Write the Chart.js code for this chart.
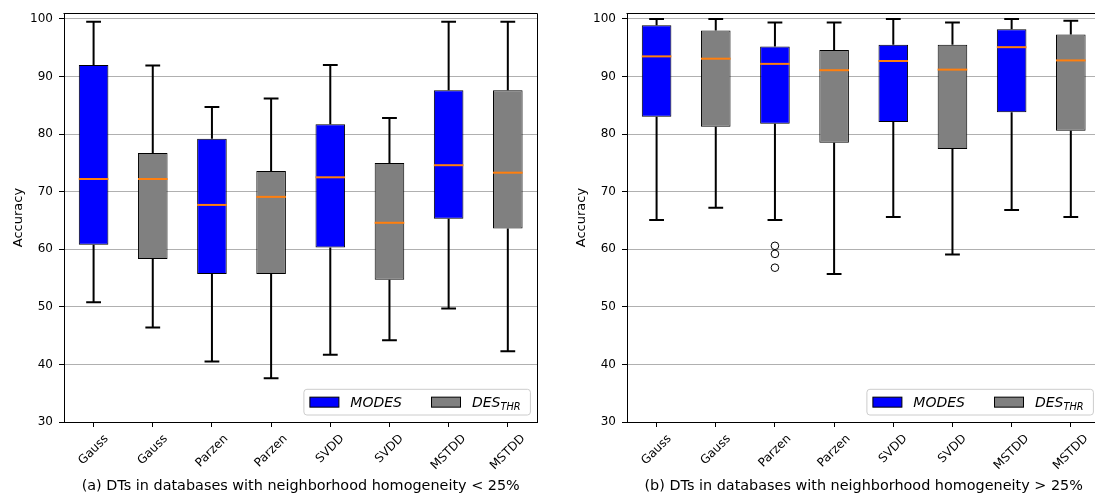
<!DOCTYPE html>
<html>
<head>
<meta charset="utf-8">
<script src="https://cdn.jsdelivr.net/npm/chart.js@4.4.1/dist/chart.umd.min.js"></script>
<style>
html, body { margin: 0; padding: 0; background: #fff; overflow: hidden; }
body { width: 1095px; height: 500px; position: relative; }
.panel { position: absolute; top: 0; width: 560px; height: 500px; }
</style>
</head>
<body>
<div class="panel" style="left:0"><canvas id="chartA" width="560" height="500"></canvas></div>
<div class="panel" style="left:563px"><canvas id="chartB" width="560" height="500"></canvas></div>
<script>
// categorias y grupos (MODES / DES_THR alternados)
const categories = ['Gauss', 'Gauss', 'Parzen', 'Parzen', 'SVDD', 'SVDD', 'MSTDD', 'MSTDD'];
const groups = ['MODES', 'DES', 'MODES', 'DES', 'MODES', 'DES', 'MODES', 'DES'];
const yTicks = [30, 40, 50, 60, 70, 80, 90, 100];

// (a) homogeneidad < 25%
const lowA  = [50.8, 46.4, 40.5, 37.6, 41.7, 44.2, 49.7, 42.3];
const q1A   = [60.8, 58.3, 55.7, 55.7, 60.3, 54.7, 65.3, 63.6];
const medA  = [72.2, 72.2, 67.7, 69.1, 72.5, 64.6, 74.6, 73.3];
const q3A   = [92.0, 76.7, 79.2, 73.6, 81.7, 75.0, 87.6, 87.6];
const highA = [99.5, 91.9, 84.7, 86.2, 92.0, 82.8, 99.5, 99.5];
const outA  = [[], [], [], [], [], [], [], []];

// (b) homogeneidad > 25%
const lowB  = [65.1, 67.2, 65.1, 55.7, 65.6, 59.1, 66.8, 65.6];
const q1B   = [83.0, 81.3, 81.8, 78.5, 82.1, 77.4, 83.8, 80.6];
const medB  = [93.5, 93.1, 92.2, 91.1, 92.7, 91.2, 95.1, 92.8];
const q3B   = [98.9, 98.0, 95.2, 94.6, 95.5, 95.5, 98.2, 97.3];
const highB = [100, 100, 99.4, 99.4, 100, 99.4, 100, 99.7];
const outB  = [[], [], [60.6, 59.2, 56.8], [], [], [], [], []];

const legendItems = [
    { group: 'MODES', text: 'MODES', sub: '' },
    { group: 'DES', text: 'DES', sub: 'THR' }
];
const groupColors = { MODES: '#0000ff', DES: '#808080' };
const FONT = '"DejaVu Sans"';

// Plugin que dibuja bigotes, medianas, outliers, etiquetas x, leyenda y bordes
function boxExtras(low, med, high, outliers) {
    return {
        id: 'boxExtras',
        afterDatasetsDraw(chart) {
            const ctx = chart.ctx;
            const xs = chart.scales.x, ys = chart.scales.y;
            const bars = chart.getDatasetMeta(0).data;
            ctx.save();
            categories.forEach((c, i) => {
                const x = xs.getPixelForValue(i);
                const half = bars[i].width / 2;
                const [q1, q3] = chart.data.datasets[0].data[i];
                ctx.strokeStyle = '#000';
                ctx.lineWidth = 2;
                ctx.beginPath();
                ctx.moveTo(x, ys.getPixelForValue(q3));
                ctx.lineTo(x, ys.getPixelForValue(high[i]));
                ctx.moveTo(x, ys.getPixelForValue(q1));
                ctx.lineTo(x, ys.getPixelForValue(low[i]));
                ctx.moveTo(x - half / 2, ys.getPixelForValue(high[i]));
                ctx.lineTo(x + half / 2, ys.getPixelForValue(high[i]));
                ctx.moveTo(x - half / 2, ys.getPixelForValue(low[i]));
                ctx.lineTo(x + half / 2, ys.getPixelForValue(low[i]));
                ctx.stroke();
                // mediana
                ctx.strokeStyle = '#ff7f0e';
                ctx.beginPath();
                ctx.moveTo(x - half, ys.getPixelForValue(med[i]));
                ctx.lineTo(x + half, ys.getPixelForValue(med[i]));
                ctx.stroke();
                // outliers
                ctx.strokeStyle = '#000';
                ctx.lineWidth = 1;
                outliers[i].forEach(v => {
                    ctx.beginPath();
                    ctx.arc(x, ys.getPixelForValue(v), 3.8, 0, Math.PI * 2);
                    ctx.stroke();
                });
            });
            ctx.restore();
        },
        afterDraw(chart) {
            const ctx = chart.ctx;
            const ca = chart.chartArea;
            const xs = chart.scales.x;
            ctx.save();
            // bordes superior y derecho
            ctx.strokeStyle = '#000';
            ctx.lineWidth = 1;
            ctx.beginPath();
            ctx.moveTo(Math.round(ca.left) - 0.5, Math.round(ca.top) + 0.5);
            ctx.lineTo(Math.round(ca.right) + 0.5, Math.round(ca.top) + 0.5);
            ctx.lineTo(Math.round(ca.right) + 0.5, Math.round(ca.bottom));
            ctx.stroke();

            // etiquetas del eje x rotadas 45 grados, centradas en el tick
            ctx.fillStyle = '#000';
            ctx.font = '12px ' + FONT;
            categories.forEach((lab, i) => {
                const x = xs.getPixelForValue(i);
                const w = ctx.measureText(lab).width;
                const h = 12 * 1.164;
                const bb = (w + h) * Math.SQRT1_2;
                const cy = ca.bottom + 5 + 4.9 + bb / 2;
                ctx.save();
                ctx.translate(x, cy);
                ctx.rotate(-Math.PI / 4);
                ctx.textAlign = 'center';
                ctx.textBaseline = 'middle';
                ctx.fillText(lab, 0, 0);
                ctx.restore();
            });

            // leyenda
            const bw = 226.5, bh = 25.7;
            const bx = ca.right - 7 - bw, by = ca.bottom - 7 - bh;
            ctx.beginPath();
            ctx.roundRect(bx, by, bw, bh, 3);
            ctx.fillStyle = 'rgba(255,255,255,0.8)';
            ctx.fill();
            ctx.strokeStyle = '#cccccc';
            ctx.stroke();
            const cyL = by + bh / 2;
            let px = bx + 6;
            legendItems.forEach(item => {
                ctx.fillStyle = groupColors[item.group];
                ctx.fillRect(px, cyL - 5, 29, 10);
                ctx.strokeStyle = '#000';
                ctx.lineWidth = 1;
                ctx.strokeRect(px, cyL - 5, 29, 10);
                px += 29 + 11.4;
                ctx.fillStyle = '#000';
                ctx.font = 'italic 14px ' + FONT;
                ctx.textAlign = 'left';
                ctx.textBaseline = 'alphabetic';
                ctx.fillText(item.text, px, cyL + 4.5);
                px += ctx.measureText(item.text).width;
                if (item.sub) {
                    ctx.font = 'italic 9.8px ' + FONT;
                    ctx.fillText(item.sub, px, cyL + 7.5);
                    px += ctx.measureText(item.sub).width;
                }
                px += 29.6;
            });
            ctx.restore();
        }
    };
}

function makeChart(id, low, q1, med, q3, high, outliers, caption) {
    return new Chart(document.getElementById(id), {
        type: 'bar',
        data: {
            labels: categories,
            datasets: [{
                data: q1.map((v, i) => [v, q3[i]]),
                backgroundColor: groups.map(g => groupColors[g]),
                borderColor: '#000',
                borderWidth: 1,
                borderSkipped: false,
                barPercentage: 0.5,
                categoryPercentage: 1.0
            }]
        },
        options: {
            responsive: false,
            animation: false,
            layout: { padding: { top: 9, right: 22.6, bottom: 0, left: 0 } },
            plugins: { legend: { display: false }, tooltip: { enabled: false } },
            scales: {
                x: {
                    grid: { display: true, drawOnChartArea: false, offset: false, tickLength: 5, tickColor: '#000' },
                    border: { display: true, color: '#000', width: 1 },
                    ticks: { display: false },
                    title: {
                        display: true, text: caption, color: '#000',
                        font: { family: FONT, size: 14.4 },
                        padding: { top: 0, bottom: 5 }
                    },
                    afterFit(s) { s.height = 78; }
                },
                y: {
                    min: 30,
                    max: 101,
                    afterBuildTicks(s) { s.ticks = yTicks.map(v => ({ value: v })); },
                    ticks: { color: '#000', font: { family: FONT, size: 12 }, padding: 6 },
                    grid: { color: '#b0b0b0', tickColor: '#000', tickLength: 5, lineWidth: 1 },
                    border: { display: true, color: '#000', width: 1 },
                    title: {
                        display: true, text: 'Accuracy', color: '#000',
                        font: { family: FONT, size: 13 },
                        padding: { top: 10.5, bottom: 0 }
                    },
                    afterFit(s) { s.width = 64; }
                }
            }
        },
        plugins: [boxExtras(low, med, high, outliers)]
    });
}

makeChart('chartA', lowA, q1A, medA, q3A, highA, outA,
    '(a) DTs in databases with neighborhood homogeneity < 25%');
makeChart('chartB', lowB, q1B, medB, q3B, highB, outB,
    '(b) DTs in databases with neighborhood homogeneity > 25%');
</script>
</body>
</html>
